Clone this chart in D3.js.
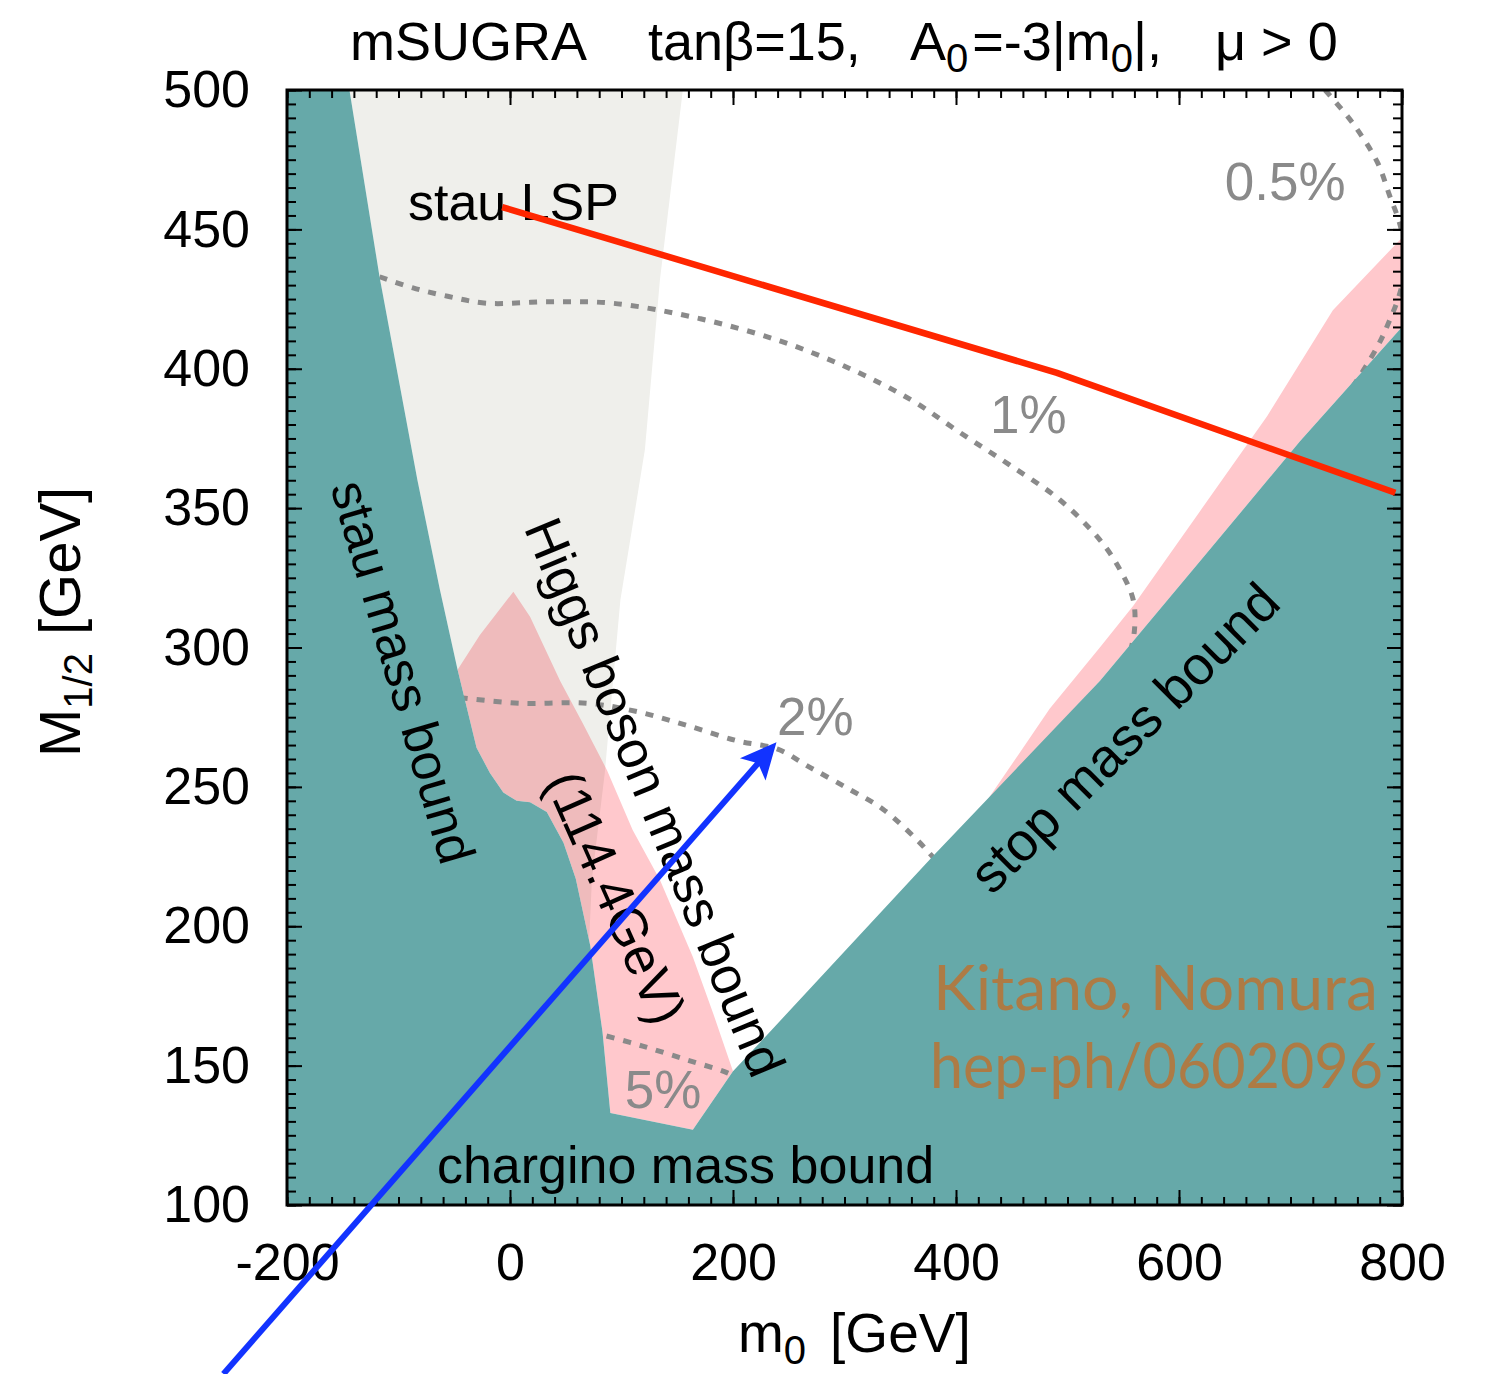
<!DOCTYPE html>
<html>
<head>
<meta charset="utf-8">
<script src="https://cdn.jsdelivr.net/npm/d3@7"></script>
<style>
  body { margin: 0; background: #fff; }
  svg text { font-family: "Liberation Sans", Arial, Helvetica, sans-serif; }
</style>
</head>
<body>
<div id="chart"></div>
<script>
'use strict';

// axis ticks
var xMajor = [-200, 0, 200, 400, 600, 800];
var yMajor = [100, 150, 200, 250, 300, 350, 400, 450, 500];

// excluded region (teal): stau bound -> chargino bound -> stop bound   [m0, M1/2]
var stauBound = [[-144, 500], [-117, 433], [-83, 360], [-63, 321], [-47, 292], [-30, 264], [-18, 255],
  [-6, 248], [6, 245], [18, 244.5], [33, 241], [48, 230], [59, 217], [72, 193], [83, 162], [90, 133]];
var charginoBound = [[90, 133], [164, 127], [200, 148]];
var stopBound = [[200, 148], [230.5, 161], [379, 225], [529, 288], [619, 331], [708.5, 374], [800, 415]];

// right edge of the stau LSP region
var stauLSPEdge = [[155, 500], [134.5, 432], [121, 371], [108, 339], [99, 317], [85, 255], [73.5, 217], [71, 195]];

// Higgs boson mass bound (114.4 GeV)
var higgsEdge = [[-47, 292], [-27, 304.5], [3, 320], [18, 311], [45, 288], [65, 273], [87, 256],
  [110, 234.5], [134.5, 216.6], [164, 189], [182, 169], [200, 148]];

// pink band along the stop bound
var stopBandEdge = [[426, 244], [484, 278], [529, 300], [559, 315], [619, 349], [679, 383], [738, 421], [800, 447]];

// fine-tuning contours
var contour05 = [[731, 500], [756, 488], [778, 474], [789, 462], [798, 452], [804, 439], [798, 427],
  [789, 417.5], [778, 408], [751, 391], [726, 380]];
var contour1 = [[-117, 433], [-87, 429], [-56, 426], [-21, 423.5], [33, 424], [92, 423.5], [170, 418],
  [242, 410], [305, 400], [359, 389], [404, 377], [448, 365.5], [493, 353], [529, 338.6], [547, 328],
  [559, 317], [560, 306], [554, 295]];
var contour2 = [[-45, 282], [9, 280], [69, 280], [114, 277], [159, 272], [204, 266.5], [239.5, 263.6],
  [269, 257], [305, 249], [334.5, 242], [365, 231], [379, 225], [395, 218]];
var contour5 = [[72, 162], [83, 161], [119, 157], [159, 152], [195, 147.4], [211, 144]];
var contourLabels = ['0.5%', '1%', '2%', '5%'];
var contourLabelPos = [[641, 460.5], [430.5, 377], [239.5, 268.6], [103, 134.8]];

// red line and blue arrow
var redLine = [[-7, 458], [490.6, 398.5], [794, 355.5]];
var blueArrow = [[-257, 39.4], [239, 266]];

var width = 1496, height = 1374;

var svg = d3.select('#chart').append('svg')
  .attr('width', width)
  .attr('height', height);

var x = d3.scaleLinear().domain([-200, 800]).range([287, 1402]);
var y = d3.scaleLinear().domain([100, 500]).range([1205, 90]);

var line = d3.line().x(d => x(d[0])).y(d => y(d[1]));
var smooth = d3.line().x(d => x(d[0])).y(d => y(d[1])).curve(d3.curveCatmullRom);

svg.append('defs').append('clipPath').attr('id', 'plot')
  .append('rect')
  .attr('x', x(-200)).attr('y', y(500))
  .attr('width', x(800) - x(-200)).attr('height', y(100) - y(500));

var area = svg.append('g').attr('clip-path', 'url(#plot)');

area.append('rect')
  .attr('x', x(-200)).attr('y', y(500))
  .attr('width', x(800) - x(-200)).attr('height', y(100) - y(500))
  .attr('fill', '#ffffff');

// stau LSP (light gray)
var grayPts = stauLSPEdge.concat(stauBound.filter(d => d[1] >= 193).reverse());
area.append('path').attr('d', line(grayPts) + 'Z').attr('fill', '#efefeb');

// Higgs bound region (pink, multiplied on the gray)
var higgsPts = higgsEdge.concat([[164, 127], [90, 133]], stauBound.filter(d => d[1] < 292).reverse());
area.append('path').attr('d', line(higgsPts) + 'Z')
  .attr('fill', '#ffc8cc').style('mix-blend-mode', 'multiply');

var bandPts = stopBandEdge.concat(stopBound.filter(d => d[0] > 500).reverse());
area.append('path').attr('d', line(bandPts) + 'Z').attr('fill', '#ffc8cc');

// contours
[contour05, contour1, contour2, contour5].forEach(function(c) {
  area.append('path')
    .attr('d', smooth(c))
    .attr('fill', 'none')
    .attr('stroke', '#8a8a8a')
    .attr('stroke-width', 5)
    .attr('stroke-dasharray', '8,9');
});

// excluded region (teal)
var tealPts = [[-200, 500]].concat(stauBound, charginoBound.slice(1), stopBound.slice(1), [[800, 100], [-200, 100]]);
area.append('path').attr('d', line(tealPts) + 'Z').attr('fill', '#66a9a9');

// ticks on all four sides, pointing inward
var xMinor = d3.range(-200, 801, 20);
var yMinor = d3.range(100, 501, 5);

function tickStyle(g) {
  g.select('.domain').remove();
  g.selectAll('.tick line').attr('stroke', '#000').attr('stroke-width', 2);
}

svg.append('g').attr('transform', 'translate(0,' + y(100) + ')')
  .call(d3.axisBottom(x).tickValues(xMinor).tickSize(-8).tickFormat('')).call(tickStyle);
svg.append('g').attr('transform', 'translate(0,' + y(500) + ')')
  .call(d3.axisTop(x).tickValues(xMinor).tickSize(-8).tickFormat('')).call(tickStyle);
svg.append('g').attr('transform', 'translate(' + x(-200) + ',0)')
  .call(d3.axisLeft(y).tickValues(yMinor).tickSize(-9).tickFormat('')).call(tickStyle);
svg.append('g').attr('transform', 'translate(' + x(800) + ',0)')
  .call(d3.axisRight(y).tickValues(yMinor).tickSize(-9).tickFormat('')).call(tickStyle);

var xAxis = svg.append('g').attr('transform', 'translate(0,' + y(100) + ')')
  .call(d3.axisBottom(x).tickValues(xMajor).tickSize(-15).tickPadding(38).tickFormat(d => String(d)))
  .call(tickStyle);
svg.append('g').attr('transform', 'translate(0,' + y(500) + ')')
  .call(d3.axisTop(x).tickValues(xMajor).tickSize(-15).tickFormat('')).call(tickStyle);
var yAxis = svg.append('g').attr('transform', 'translate(' + x(-200) + ',0)')
  .call(d3.axisLeft(y).tickValues(yMajor).tickSize(-15).tickPadding(37).tickFormat(d => String(d)))
  .call(tickStyle);
svg.append('g').attr('transform', 'translate(' + x(800) + ',0)')
  .call(d3.axisRight(y).tickValues(yMajor).tickSize(-15).tickFormat('')).call(tickStyle);

[xAxis, yAxis].forEach(function(g) {
  g.selectAll('text')
    .attr('fill', '#000')
    .style('font-family', '"Liberation Sans", Arial, sans-serif')
    .style('font-size', '52px');
});

svg.append('rect')
  .attr('x', x(-200)).attr('y', y(500))
  .attr('width', x(800) - x(-200)).attr('height', y(100) - y(500))
  .attr('fill', 'none').attr('stroke', '#000').attr('stroke-width', 3);

// region labels
function rotLabel(txt, m0, m12, angle, size) {
  svg.append('text')
    .attr('transform', 'translate(' + x(m0) + ',' + y(m12) + ') rotate(' + angle + ')')
    .attr('text-anchor', 'middle')
    .attr('dy', '0.3em')
    .style('font-size', size + 'px')
    .attr('fill', '#000')
    .text(txt);
}
rotLabel('stau mass bound', -98, 291, 73.7, 52);
rotLabel('Higgs boson mass bound', 128, 246, 67.5, 53);
rotLabel('(114.4GeV)', 93, 210, 66, 53);
rotLabel('stop mass bound', 552.5, 267, -45, 54);

svg.append('text').attr('x', x(-91.5)).attr('y', y(453.4))
  .style('font-size', '52px').text('stau LSP');
svg.append('text').attr('x', x(-65.5)).attr('y', y(108))
  .style('font-size', '52px').text('chargino mass bound');

contourLabels.forEach(function(t, i) {
  svg.append('text')
    .attr('x', x(contourLabelPos[i][0]))
    .attr('y', y(contourLabelPos[i][1]))
    .style('font-size', '53px')
    .attr('fill', '#8a8a8a')
    .text(t);
});

// citation
svg.append('text').attr('x', x(778.5)).attr('y', y(170))
  .attr('text-anchor', 'end')
  .attr('textLength', 445).attr('lengthAdjust', 'spacingAndGlyphs')
  .style('font-family', '"Gill Sans", Lato, sans-serif').style('font-size', '62px')
  .attr('fill', '#ad7b45').text('Kitano, Nomura');
svg.append('text').attr('x', x(783)).attr('y', y(142))
  .attr('text-anchor', 'end')
  .attr('textLength', 453).attr('lengthAdjust', 'spacingAndGlyphs')
  .style('font-family', '"Gill Sans", Lato, sans-serif').style('font-size', '62px')
  .attr('fill', '#ad7b45').text('hep-ph/0602096');

// red line
svg.append('path').attr('d', line(redLine))
  .attr('fill', 'none').attr('stroke', '#ff2600').attr('stroke-width', 6.5);

// blue arrow
var p0 = [x(blueArrow[0][0]), y(blueArrow[0][1])];
var p1 = [x(blueArrow[1][0]), y(blueArrow[1][1])];
var ang = Math.atan2(p1[1] - p0[1], p1[0] - p0[0]);
var headLen = 36, headW = 17;
svg.append('line')
  .attr('x1', p0[0]).attr('y1', p0[1])
  .attr('x2', p1[0] - Math.cos(ang) * 25).attr('y2', p1[1] - Math.sin(ang) * 25)
  .attr('stroke', '#1233ff').attr('stroke-width', 6);
svg.append('path')
  .attr('transform', 'translate(' + p1[0] + ',' + p1[1] + ') rotate(' + (ang * 180 / Math.PI) + ')')
  .attr('d', 'M0,0 L' + (-headLen) + ',' + (-headW) + ' L' + (-headLen + 8) + ',0 L' + (-headLen) + ',' + headW + ' Z')
  .attr('fill', '#1233ff');

// axis titles
var xt = svg.append('text').attr('x', 738).attr('y', 1352).style('font-size', '55px');
xt.append('tspan').text('m');
xt.append('tspan').attr('dy', 12).style('font-size', '40px').text('0');
xt.append('tspan').attr('dy', -12).attr('dx', 24).text('[GeV]');

var yt = svg.append('text')
  .attr('transform', 'translate(80,757) rotate(-90)')
  .style('font-size', '58px');
yt.append('tspan').text('M');
yt.append('tspan').attr('dy', 12).style('font-size', '40px').text('1/2');
yt.append('tspan').attr('dy', -12).attr('dx', 18).text('[GeV]');

// title
var title = svg.append('g').style('font-size', '54px');
title.append('text').attr('x', 350).attr('y', 60).text('mSUGRA');
title.append('text').attr('x', 648).attr('y', 60).text('tan\u03b2=15,');
var a0 = title.append('text').attr('x', 910).attr('y', 60);
a0.append('tspan').text('A');
a0.append('tspan').attr('dy', 12).style('font-size', '40px').text('0');
a0.append('tspan').attr('dy', -12).attr('dx', 4).text('=-3|m');
a0.append('tspan').attr('dy', 12).style('font-size', '40px').text('0');
a0.append('tspan').attr('dy', -12).text('|,');
title.append('text').attr('x', 1215).attr('y', 60).text('\u03bc > 0');
</script>
</body>
</html>
